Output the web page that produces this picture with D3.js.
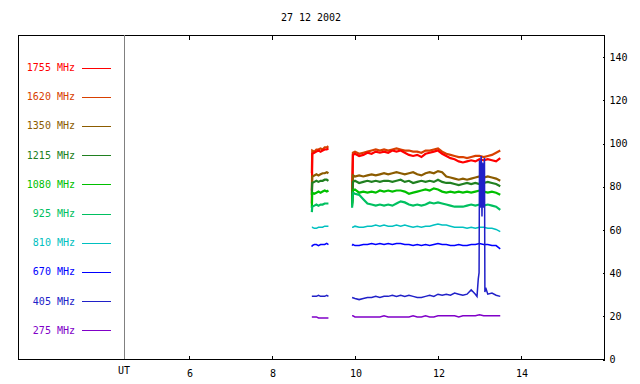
<!DOCTYPE html>
<html>
<head>
<meta charset="utf-8">
<script src="https://cdn.jsdelivr.net/npm/d3@7"></script>
<style>
  body { margin: 0; background: #fff; }
  text { font-family: 'DejaVu Sans Mono', monospace; font-size: 10px; }
</style>
</head>
<body>
<div id="chart"></div>
<script>
(function() {
const width = 640,
      height = 384

// UT hours of the two observing runs
const hours1 = [8.96, 8.97, 9.02, 9.07, 9.12, 9.17, 9.22, 9.27, 9.32, 9.36]
const hours2 = [9.93, 9.95, 10.0, 10.1, 10.2, 10.3, 10.4, 10.5, 10.6, 10.7, 10.8, 10.9,
  11.0, 11.1, 11.2, 11.3, 11.4, 11.5, 11.6, 11.7, 11.8, 11.9, 12.0, 12.1, 12.2, 12.3,
  12.4, 12.5, 12.6, 12.7, 12.8, 12.9, 13.0, 13.1, 13.2, 13.3, 13.4, 13.5]
const hours405 = [9.93, 10.0, 10.1, 10.2, 10.3, 10.4, 10.5, 10.6, 10.7, 10.8, 10.9, 11.0,
  11.1, 11.2, 11.3, 11.4, 11.5, 11.6, 11.7, 11.8, 11.9, 12.0, 12.1, 12.2, 12.3, 12.4,
  12.5, 12.6, 12.7, 12.75, 12.8, 12.85, 12.9, 12.94, 12.97, 12.99, 13.0, 13.02, 13.04,
  13.06, 13.08, 13.1, 13.12, 13.13, 13.15, 13.2, 13.3, 13.4, 13.5]

const labels = ['1755 MHz', '1620 MHz', '1350 MHz', '1215 MHz', '1080 MHz',
  '925 MHz', '810 MHz', '670 MHz', '405 MHz', '275 MHz']
const colors = ['#ff0000', '#d84000', '#8c5c00', '#208020', '#00c000',
  '#00c060', '#00c0c0', '#0000ff', '#2020c8', '#8000c8']

const yTicks = [0, 20, 40, 60, 80, 100, 120, 140]
const xTicks = [6, 8, 10, 12, 14]

const f1755a = [72, 95, 95.5, 96, 96.5, 96, 96.5, 97, 97, 97.5]
const f1755b = [73, 94.5, 95, 94, 94.5, 95.5, 95, 96, 95.5, 96, 95.5, 96.5, 96, 96.5, 95.5,
  94.5, 94, 94.5, 93.5, 95, 95.5, 96, 96.5, 95, 94, 93, 92.5, 91.5, 91, 91.5, 92, 91.5,
  92.5, 92, 92.5, 92, 91.5, 93]
const f1620a = [86, 96.5, 96, 97, 97, 97.5, 97, 98, 98, 98.5]
const f1620b = [75, 95.5, 96, 95, 95.5, 96, 96.5, 97, 96.5, 97, 96.5, 97, 97.5, 97, 96.5,
  96.5, 96, 96, 95.5, 96.5, 96.5, 97, 97.5, 96, 95, 94.5, 94, 93.5, 93.5, 93, 93.5, 94,
  94, 93.5, 94, 94.5, 95.5, 96.5]
const f1350a = [78, 84.5, 85, 85.5, 85, 85.5, 86, 86, 86.5, 86]
const f1350b = [72, 85, 84.5, 85, 84.5, 85, 85.5, 85, 85.5, 86, 85.5, 86, 86.5, 86, 85.5,
  86, 86.5, 85.5, 85, 86, 86.5, 86, 87, 86.5, 84.5, 84, 83.5, 83, 83.5, 83, 83.5, 84,
  84.5, 84, 84.5, 84, 83.5, 82.5]
const f1215a = [76, 81.5, 82, 82.5, 82, 82.5, 82.5, 83, 83, 82.5]
const f1215b = [72, 82, 82.5, 81.5, 82, 82.5, 82, 82.5, 82, 82.5, 82.5, 82, 82.5, 83, 82,
  82.5, 81.5, 82, 82.5, 82, 82.5, 82, 83, 82, 81.5, 81.5, 81, 80.5, 81, 81.5, 81, 81.5,
  81, 81.5, 82, 81.5, 81, 80]
const f1080a = [70, 77, 76.5, 77, 77.5, 77, 77.5, 78, 77.5, 78]
const f1080b = [71, 78, 78.5, 77, 77.5, 77, 77.5, 77, 78, 77.5, 78, 77.5, 78, 78, 77.5,
  76.5, 77, 77.5, 78, 78.5, 78, 79, 78.5, 77.5, 77, 77.5, 77, 77.5, 77, 77.5, 77, 77.5,
  78, 77.5, 77, 77.5, 77, 76]
const f925a = [68, 70.5, 71, 71.5, 71, 71.5, 71.5, 72, 72, 72]
const f925b = [70, 77, 76.5, 76, 74, 72, 71.5, 71, 71.5, 71, 71.5, 71, 72, 73, 72.5, 71.5,
  71, 71.5, 71, 71.5, 72.5, 72, 72.5, 72, 71.5, 71, 70.5, 70.5, 70.5, 71, 71.5, 71, 71.5,
  71, 71.5, 71, 70.5, 69]
const f810a = [61, 61, 60.5, 60.5, 61, 61, 61, 61.5, 61.5, 61.5]
const f810b = [61, 61, 61.5, 61, 61, 61.5, 61.5, 62, 61.5, 62, 61.5, 61.5, 62, 61.5, 62,
  61.5, 61, 61.5, 61, 61.5, 61.5, 62, 62.5, 62, 62, 61.5, 61, 61, 61, 60.5, 61, 60.5, 61,
  61, 60.5, 60.5, 60, 59]
const f670a = [52, 52.5, 53, 53, 52.5, 53, 53, 53, 53.5, 53]
const f670b = [52.5, 53, 52.5, 52.5, 53, 53, 53.5, 53, 53.5, 53, 53.5, 53, 53.5, 53.5, 53,
  53, 52.5, 53, 52.5, 53, 52.5, 53, 53.5, 53, 53, 52.5, 52.5, 53, 52.5, 52.5, 53, 53,
  53.5, 53, 53, 52.5, 52.5, 51]
const f405a = [29, 29, 29, 29, 29.5, 29, 29, 29, 29.5, 29]
const f405b = [28.5, 28, 27.5, 28, 28.5, 28.5, 29, 28.5, 29, 29, 29.5, 29, 29.5, 29, 29.5,
  29, 28.5, 28.5, 29, 29.5, 29, 30, 29.5, 30, 29.5, 30.5, 30, 29.5, 30, 31, 32, 31, 30,
  29, 37, 40, 92, 70, 94, 66, 91, 70, 93, 31, 33, 30, 30.5, 29.5, 29]
const f275a = [19.5, 19.5, 19.5, 19.5, 19, 19, 19, 19, 19, 19]
const f275b = [20, 20, 19.5, 19.5, 19.5, 19.5, 19.5, 19.5, 19.5, 20, 19.5, 19.5, 19.5,
  19.5, 19.5, 19.5, 20, 19.5, 19.5, 20, 19.5, 19.5, 20, 20, 20, 20, 20, 19.5, 20, 20, 20,
  20, 20.5, 20, 20, 20, 20, 20]

const runs1 = [f1755a, f1620a, f1350a, f1215a, f1080a, f925a, f810a, f670a, f405a, f275a]
const runs2 = [f1755b, f1620b, f1350b, f1215b, f1080b, f925b, f810b, f670b, f405b, f275b]

const svg = d3.select('#chart')
  .append('svg')
  .attr('width', width)
  .attr('height', height)

svg.append('rect')
  .attr('width', width)
  .attr('height', height)
  .attr('fill', '#fff')

const left = 18, right = 604, top = 35, bottom = 359, utX = 124

const x = d3.scaleLinear()
  .domain([4.434, 16])
  .range([utX, right])

const y = d3.scaleLinear()
  .domain([0, 150])
  .range([bottom, top])

svg.append('text')
  .attr('x', 311)
  .attr('y', 21)
  .attr('text-anchor', 'middle')
  .text('27 12 2002')

// data lines
const line = d3.line()
  .x(function(d) { return x(d[0]) })
  .y(function(d) { return y(d[1]) })

const order = [1, 0, 2, 3, 4, 5, 6, 7, 8, 9]
const plot = svg.append('g')
order.forEach(function(i) {
  const a = hours1.map(function(h, k) { return [h, runs1[i][k]] })
  const t2 = i === 8 ? hours405 : hours2
  const b = t2.map(function(h, k) { return [h, runs2[i][k]] })
  ;[a, b].forEach(function(pts) {
    plot.append('path')
      .datum(pts)
      .attr('d', line)
      .attr('fill', 'none')
      .attr('stroke', colors[i])
      .attr('stroke-width', i < 6 ? 2.2 : 1.5)
  })
})

// frame
svg.append('rect')
  .attr('x', left + 0.5)
  .attr('y', top + 0.5)
  .attr('width', right - left)
  .attr('height', bottom - top)
  .attr('fill', 'none')
  .attr('stroke', '#000')
  .attr('shape-rendering', 'crispEdges')

svg.append('line')
  .attr('x1', utX + 0.5).attr('x2', utX + 0.5)
  .attr('y1', top).attr('y2', bottom)
  .attr('stroke', '#808080')
  .attr('shape-rendering', 'crispEdges')

const xAxis = svg.append('g')
  .attr('transform', 'translate(0.5,' + (bottom + 0.5) + ')')
  .call(d3.axisBottom(x).tickValues(xTicks).tickSizeInner(-4).tickSizeOuter(0).tickPadding(10))
xAxis.select('.domain').remove()

const xTop = svg.append('g')
  .attr('transform', 'translate(0.5,' + (top + 0.5) + ')')
  .call(d3.axisTop(x).tickValues(xTicks).tickSizeInner(-4).tickSizeOuter(0).tickFormat(''))
xTop.select('.domain').remove()

const yAxis = svg.append('g')
  .attr('transform', 'translate(' + (right + 0.5) + ',0.5)')
  .call(d3.axisRight(y).tickValues(yTicks).tickSizeInner(-2).tickSizeOuter(0).tickPadding(5))
yAxis.select('.domain').remove()

svg.selectAll('.tick line').attr('shape-rendering', 'crispEdges')
svg.selectAll('.tick text')
  .style('font-family', "'DejaVu Sans Mono', monospace")
  .style('font-size', '10px')

svg.append('text')
  .attr('x', utX)
  .attr('y', 374)
  .attr('text-anchor', 'middle')
  .text('UT')

// legend
const legend = svg.selectAll('.legend')
  .data(labels)
  .enter().append('g')
  .attr('class', 'legend')
  .attr('transform', function(d, i) {
    return 'translate(0,' + (67.5 + i * 29.2) + ')'
  })

legend.append('text')
  .attr('x', 75)
  .attr('dy', '0.35em')
  .attr('text-anchor', 'end')
  .attr('fill', function(d, i) { return colors[i] })
  .text(function(d) { return d })

legend.append('line')
  .attr('x1', 82)
  .attr('x2', 111)
  .attr('y1', 0.5)
  .attr('y2', 0.5)
  .attr('stroke', function(d, i) { return colors[i] })
  .attr('shape-rendering', 'crispEdges')

})()
</script>
</body>
</html>
